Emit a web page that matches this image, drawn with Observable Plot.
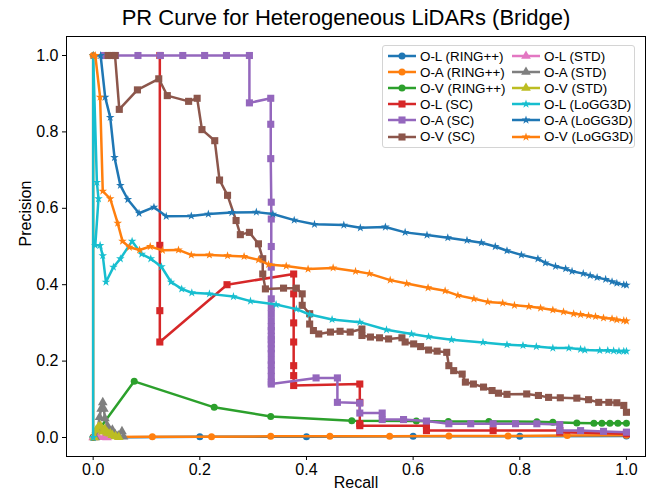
<!DOCTYPE html>
<html>
<head>
<meta charset="utf-8">
<script src="https://cdn.jsdelivr.net/npm/d3@7"></script>
<script src="https://cdn.jsdelivr.net/npm/@observablehq/plot@0.6"></script>
<style>
  body { margin: 0; background: #fff; font-family: "Liberation Sans", Arial, sans-serif; }
  #wrap { position: relative; width: 649px; height: 495px; overflow: hidden; }
  #title { position: absolute; left: 46px; width: 600px; top: 5px; text-align: center;
           font-size: 22px; line-height: 26px; color: #000; }
  #legend { position: absolute; left: 382px; top: 45px; width: 251px; height: 101px;
            border: 1px solid #d4d4d4; border-radius: 3px; background: rgba(255,255,255,0.85); }
  .entry { position: absolute; height: 16px; display: flex; align-items: center;
           font-size: 13.4px; color: #000; white-space: nowrap; }
  .entry svg { margin-right: 3px; }
</style>
</head>
<body>
<div id="wrap">
  <div id="chart"></div>
  <div id="title">PR Curve for Heterogeneous LiDARs (Bridge)</div>
  <div id="legend"></div>
</div>
<script>
// Series names, in plotting order
const SERIES = [
  "O-L (RING++)", "O-A (RING++)", "O-V (RING++)",
  "O-L (SC)", "O-A (SC)", "O-V (SC)",
  "O-L (STD)", "O-A (STD)", "O-V (STD)",
  "O-L (LoGG3D)", "O-A (LoGG3D)", "O-V (LoGG3D)"
];
const COLORS = [
  "#1f77b4", "#ff7f0e", "#2ca02c",
  "#d62728", "#9467bd", "#8c564b",
  "#e377c2", "#7f7f7f", "#bcbd22",
  "#17becf", "#1f77b4", "#ff7f0e"
];
const SYMBOLS = [
  "circle", "circle", "circle",
  "square", "square", "square",
  "triangle", "triangle", "triangle",
  "star", "star", "star"
];
const RADII = [3.5, 3.5, 3.5, 4, 4, 4, 3.6, 3.6, 3.6, 2.7, 2.7, 2.7];

// [recall, precision] pairs per series
const OL_RING = [[0,0.0],[0.2,0.002],[0.4,0.002],[0.6,0.003],[0.8,0.003],[1.0,0.004]];
const OA_RING = [[0,1.0],[0,0.001],[0.111,0.002],[0.222,0.002],[0.333,0.003],[0.444,0.003],
  [0.556,0.003],[0.667,0.004],[0.778,0.004],[0.889,0.005],[1.0,0.006]];
const OV_RING = [[0.0,0.0],[0.077,0.147],[0.227,0.079],[0.333,0.055],[0.485,0.044],[0.606,0.043],
  [0.666,0.042],[0.742,0.042],[0.832,0.041],[0.862,0.04],[0.907,0.038],[0.939,0.037],
  [0.954,0.037],[0.969,0.037],[0.984,0.037],[1.0,0.037]];

const OL_SC = [[0.125,1.0],[0.125,0.503],[0.125,0.332],[0.125,0.25],[0.251,0.4],[0.376,0.428],
  [0.376,0.376],[0.376,0.3],[0.376,0.25],[0.376,0.188],[0.376,0.162],[0.376,0.136],[0.5,0.14],
  [0.5,0.092],[0.5,0.036],[0.5,0.031],[0.625,0.031],[0.625,0.018],[0.75,0.018],[0.875,0.018],
  [0.875,0.014],[1.0,0.01]];
const OA_SC = [[0.02,1.0],[0.042,1.0],[0.084,1.0],[0.126,1.0],[0.168,1.0],[0.209,1.0],[0.25,1.0],
  [0.293,1.0],[0.293,0.876],[0.333,0.888],[0.333,0.82],[0.333,0.73],[0.334,0.616],[0.334,0.572],
  [0.334,0.5],[0.334,0.446],[0.334,0.363],[0.334,0.341],[0.334,0.324],[0.334,0.306],[0.334,0.29],
  [0.334,0.28],[0.334,0.265],[0.334,0.256],[0.334,0.245],[0.334,0.232],[0.334,0.22],[0.334,0.202],
  [0.334,0.19],[0.334,0.175],[0.334,0.16],[0.334,0.145],[0.334,0.14],[0.418,0.156],[0.458,0.156],
  [0.458,0.092],[0.5,0.09],[0.5,0.064],[0.542,0.064],[0.542,0.047],[0.582,0.047],[0.625,0.043],
  [0.667,0.036],[0.708,0.036],[0.75,0.036],[0.792,0.036],[0.832,0.036],[0.875,0.034],[0.875,0.018],
  [0.914,0.018],[0.957,0.016],[1.0,0.014]];
const OV_SC = [[0.028,1.0],[0.035,1.0],[0.041,1.0],[0.049,0.859],[0.083,0.91],[0.123,0.939],
  [0.139,0.895],[0.179,0.88],[0.195,0.888],[0.204,0.806],[0.228,0.777],[0.237,0.674],[0.252,0.634],
  [0.268,0.568],[0.276,0.531],[0.293,0.537],[0.31,0.507],[0.318,0.468],[0.318,0.428],[0.323,0.389],
  [0.357,0.391],[0.381,0.391],[0.392,0.376],[0.392,0.346],[0.406,0.324],[0.406,0.297],[0.413,0.28],
  [0.423,0.271],[0.445,0.276],[0.463,0.278],[0.482,0.276],[0.504,0.284],[0.504,0.267],[0.52,0.263],
  [0.537,0.261],[0.554,0.258],[0.579,0.261],[0.585,0.25],[0.601,0.245],[0.614,0.238],[0.629,0.229],
  [0.645,0.226],[0.663,0.223],[0.667,0.188],[0.676,0.175],[0.692,0.166],[0.698,0.145],[0.713,0.14],
  [0.732,0.132],[0.748,0.123],[0.76,0.116],[0.776,0.113],[0.813,0.114],[0.835,0.11],[0.854,0.105],
  [0.876,0.104],[0.907,0.103],[0.929,0.099],[0.948,0.092],[0.967,0.092],[0.982,0.091],[0.995,0.084],
  [1.0,0.066]];

const OL_STD = [[0.0,0.0],[0.01,0.001],[0.02,0.001],[0.026,0.0]];
const OA_STD = [[0.004,0.0],[0.008,0.02],[0.012,0.053],[0.015,0.075],[0.018,0.092],[0.02,0.075],
  [0.022,0.05],[0.027,0.03],[0.032,0.014],[0.036,0.02],[0.041,0.009],[0.047,0.005],[0.054,0.016],
  [0.057,0.002]];
const OV_STD = [[0.002,0.0],[0.006,0.02],[0.01,0.028],[0.014,0.03],[0.018,0.015],[0.022,0.022],
  [0.027,0.012],[0.032,0.01],[0.036,0.006],[0.042,0.003],[0.048,0.001]];

const OL_LOG = [[0,0],[0,1.0],[0.007,0.668],[0.01,0.625],[0.004,0.503],[0.013,0.503],[0.018,0.476],
  [0.024,0.407],[0.038,0.446],[0.051,0.468],[0.073,0.514],[0.091,0.48],[0.108,0.468],[0.128,0.447],
  [0.146,0.407],[0.166,0.389],[0.185,0.379],[0.218,0.376],[0.263,0.369],[0.295,0.357],[0.343,0.348],
  [0.381,0.336],[0.406,0.322],[0.448,0.309],[0.5,0.302],[0.55,0.282],[0.597,0.271],[0.629,0.264],
  [0.672,0.256],[0.731,0.249],[0.776,0.243],[0.806,0.241],[0.831,0.238],[0.862,0.234],[0.892,0.234],
  [0.914,0.231],[0.922,0.229],[0.95,0.228],[0.965,0.228],[0.976,0.227],[0.986,0.226],[0.995,0.226],
  [1.0,0.226]];
const OA_LOG = [[0.0,1.0],[0.014,1.0],[0.0225,0.891],[0.032,0.838],[0.04,0.733],[0.051,0.66],
  [0.065,0.623],[0.086,0.587],[0.114,0.603],[0.137,0.579],[0.184,0.58],[0.216,0.585],[0.26,0.589],
  [0.306,0.59],[0.337,0.585],[0.377,0.569],[0.415,0.558],[0.47,0.556],[0.501,0.549],[0.548,0.551],
  [0.585,0.537],[0.626,0.53],[0.665,0.523],[0.701,0.516],[0.728,0.51],[0.754,0.5],[0.776,0.489],
  [0.803,0.478],[0.834,0.468],[0.848,0.457],[0.867,0.448],[0.886,0.442],[0.898,0.435],[0.919,0.429],
  [0.932,0.424],[0.945,0.419],[0.961,0.414],[0.973,0.408],[0.982,0.404],[0.995,0.4],[1.0,0.399]];
const OV_LOG = [[0.0,1.0],[0.004,1.0],[0.013,0.891],[0.018,0.645],[0.032,0.625],[0.046,0.561],
  [0.055,0.514],[0.068,0.498],[0.087,0.491],[0.107,0.5],[0.13,0.49],[0.16,0.491],[0.184,0.478],
  [0.218,0.478],[0.252,0.476],[0.283,0.474],[0.31,0.465],[0.329,0.453],[0.362,0.449],[0.403,0.441],
  [0.45,0.444],[0.492,0.435],[0.518,0.429],[0.557,0.412],[0.588,0.403],[0.628,0.392],[0.66,0.384],
  [0.684,0.372],[0.714,0.363],[0.74,0.355],[0.768,0.352],[0.79,0.346],[0.817,0.343],[0.839,0.339],
  [0.862,0.334],[0.882,0.329],[0.901,0.324],[0.914,0.322],[0.929,0.319],[0.942,0.317],[0.957,0.313],
  [0.973,0.311],[0.982,0.308],[0.995,0.306],[1.0,0.305]];

const DATA = [OL_RING, OA_RING, OV_RING, OL_SC, OA_SC, OV_SC,
              OL_STD, OA_STD, OV_STD, OL_LOG, OA_LOG, OV_LOG];

// Tick values shared by both axes
const TICKS = [0, 0.2, 0.4, 0.6, 0.8, 1.0];

const FONT = '"Liberation Sans", Arial, sans-serif';
const fmt = d3.format(".1f");

const seriesMarks = DATA.flatMap((pts, i) => [
  Plot.line(pts, {x: d => d[0], y: d => d[1], stroke: COLORS[i], strokeWidth: 2.5}),
  Plot.dot(pts, {x: d => d[0], y: d => d[1], fill: COLORS[i], symbol: SYMBOLS[i], r: RADII[i]})
]);

const chart = Plot.plot({
  width: 649,
  height: 495,
  marginLeft: 66,
  marginRight: 4,
  marginTop: 36,
  marginBottom: 39,
  x: {domain: [-0.05, 1.05], range: [66, 652.6]},
  y: {domain: [-0.05, 1.05], range: [456.1, 35.9]},
  style: {fontFamily: FONT, background: "white", color: "black"},
  marks: [
    ...seriesMarks,
    Plot.frame({stroke: "black", strokeWidth: 1}),
    Plot.axisX({ticks: TICKS, tickFormat: fmt, tickSize: 4, tickPadding: 3, fontSize: 16, label: null}),
    Plot.axisY({ticks: TICKS, tickFormat: fmt, tickSize: 4, tickPadding: 4, fontSize: 16, label: null}),
    Plot.text(["Recall"], {frameAnchor: "bottom", dy: 31, fontSize: 16}),
    Plot.text(["Precision"], {frameAnchor: "left", dx: -41, rotate: -90, fontSize: 16})
  ]
});
document.getElementById("chart").appendChild(chart);

// Legend: two columns of six entries
const legend = d3.select("#legend");
SERIES.forEach((name, i) => {
  const col = Math.floor(i / 6), row = i % 6;
  const e = legend.append("div").attr("class", "entry")
    .style("left", (col === 0 ? 4 : 128) + "px")
    .style("top", (2 + row * 16.1) + "px");
  const svg = e.append("svg").attr("width", 30).attr("height", 12);
  svg.append("line").attr("x1", 1).attr("x2", 29).attr("y1", 6).attr("y2", 6)
    .attr("stroke", COLORS[i]).attr("stroke-width", 2.5);
  const typ = {circle: d3.symbolCircle, square: d3.symbolSquare, triangle: d3.symbolTriangle, star: d3.symbolStar}[SYMBOLS[i]];
  svg.append("path").attr("transform", "translate(15,6)")
    .attr("d", d3.symbol(typ, Math.PI * RADII[i] * RADII[i])())
    .attr("fill", COLORS[i]);
  e.append("span").text(name);
});
</script>
</body>
</html>
